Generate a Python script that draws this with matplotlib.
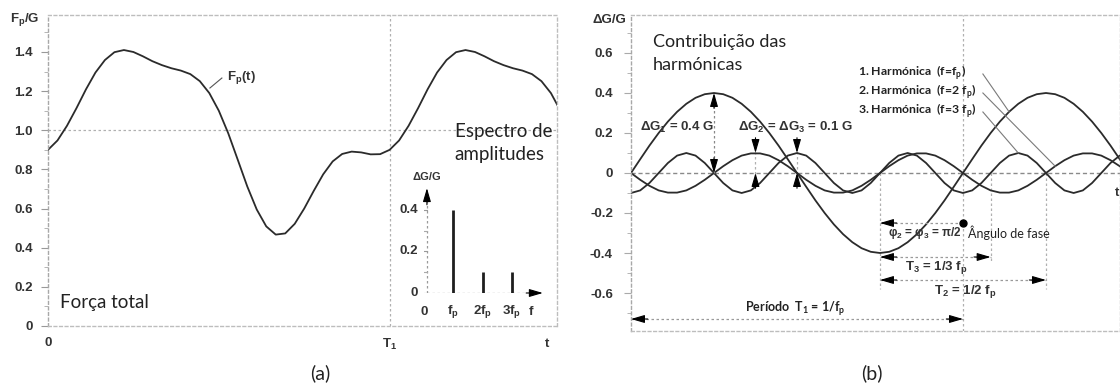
import matplotlib
matplotlib.use("Agg")
import matplotlib.pyplot as plt
import numpy as np

plt.rcParams['axes.unicode_minus'] = False

# ---------------- data ----------------
# sample positions in 36ths of the fundamental period T1 (0 .. 1.5 T1)
t_steps = np.arange(55)
# (a) total force Fp/G
force_total = [0.900, 0.948, 1.023, 1.113, 1.209, 1.295, 1.359, 1.399, 1.410, 1.400,
               1.378, 1.353, 1.333, 1.317, 1.305, 1.287, 1.251, 1.190, 1.100, 0.984,
               0.849, 0.713, 0.595, 0.509, 0.467, 0.473, 0.522, 0.600, 0.690, 0.775,
               0.841, 0.879, 0.891, 0.887, 0.877, 0.878, 0.900, 0.948, 1.023, 1.113,
               1.209, 1.295, 1.359, 1.399, 1.410, 1.400, 1.378, 1.353, 1.333, 1.317,
               1.305, 1.287, 1.251, 1.190, 1.100]
# (b) harmonic contributions dG/G
harmonic_1 = [0, .069, .137, .200, .257, .306, .346, .376, .394, .400, .394, .376, .346, .306,
              .257, .200, .137, .069, 0, -.069, -.137, -.200, -.257, -.306, -.346, -.376,
              -.394, -.400, -.394, -.376, -.346, -.306, -.257, -.200, -.137, -.069, 0, .069,
              .137, .200, .257, .306, .346, .376, .394, .400, .394, .376, .346, .306, .257,
              .200, .137, .069, 0]
harmonic_2 = [0, -.034, -.064, -.087, -.098, -.098, -.087, -.064, -.034, 0, .034, .064, .087,
              .098, .098, .087, .064, .034, 0, -.034, -.064, -.087, -.098, -.098, -.087,
              -.064, -.034, 0, .034, .064, .087, .098, .098, .087, .064, .034, 0, -.034,
              -.064, -.087, -.098, -.098, -.087, -.064, -.034, 0, .034, .064, .087, .098,
              .098, .087, .064, .034, 0]
harmonic_3 = [-.100, -.087, -.050, 0, .050, .087, .100, .087, .050, 0, -.050, -.087,
              -.100, -.087, -.050, 0, .050, .087, .100, .087, .050, 0, -.050, -.087,
              -.100, -.087, -.050, 0, .050, .087, .100, .087, .050, 0, -.050, -.087,
              -.100, -.087, -.050, 0, .050, .087, .100, .087, .050, 0, -.050, -.087,
              -.100, -.087, -.050, 0, .050, .087, .100]
# amplitude spectrum
spectrum_freq = [1, 2, 3]
spectrum_amp = [0.4, 0.1, 0.1]
spectrum_labels = ['0', 'f$_\\mathregular{p}$', '2f$_\\mathregular{p}$', '3f$_\\mathregular{p}$', 'f']
spectrum_label_pos = [0, 1, 2, 3, 3.65]
# tick labels
yticks_a = [0, 0.2, 0.4, 0.6, 0.8, 1.0, 1.2, 1.4]
yticks_b = [-0.6, -0.4, -0.2, 0, 0.2, 0.4, 0.6]
yticks_spec = [0, 0.2, 0.4]

t = t_steps / 36.0

# ---------------- style ----------------
ARIAL = 'Liberation Sans'
CALI = 'Lato'
TXT = '#333333'
CURVE = '#2b2b2b'
GRID = '#b0b0b0'
TS = 9.5
W, H = 1120, 385


def rect(l, tp, r, b):
    return [l / W, 1 - b / H, (r - l) / W, (b - tp) / H]


def style_frame(ax):
    for s in ax.spines.values():
        s.set_linestyle((0, (2, 2)))
        s.set_color('#bdbdbd')
        s.set_linewidth(1.0)
    ax.spines['left'].set_color('#a8a8a8')


def fmt(v):
    return '0' if v == 0 else f'{v:.1f}'


def head(ax, xy, off, ms=11):
    ax.annotate('', xy=xy, xytext=off, textcoords='offset points',
                arrowprops=dict(arrowstyle='-|>,head_length=0.75,head_width=0.22',
                                color='black', lw=0.8, shrinkA=0, shrinkB=0,
                                mutation_scale=ms))


fig = plt.figure(figsize=(11.2, 3.85), dpi=100)

# ======================= panel (a) =======================
axA = fig.add_axes(rect(48, 15, 557, 326))
axA.set_xlim(0, 1.49)
axA.set_ylim(0, 1.589)
style_frame(axA)
axA.axhline(1.0, color=GRID, ls=(0, (2, 2)), lw=0.9)
axA.axvline(1.0, color=GRID, ls=(0, (2, 2)), lw=0.9)
axA.plot(t, force_total, color=CURVE, lw=1.3)
axA.set_yticks(yticks_a)
axA.set_yticklabels([fmt(v) for v in yticks_a], fontfamily=ARIAL, fontweight='bold',
                    fontsize=TS, color=TXT)
axA.set_yticks(np.round(np.arange(0.1, 1.6, 0.2), 1), minor=True)
axA.tick_params(axis='y', which='major', length=5, color='#999999', pad=6)
axA.tick_params(axis='y', which='minor', length=3, color='#aaaaaa')
axA.set_xticks([0, 1.0])
axA.set_xticklabels(['0', 'T$_\\mathregular{1}$'], fontfamily=ARIAL, fontweight='bold',
                    fontsize=TS, color=TXT)
axA.tick_params(axis='x', length=0, pad=8)
axA.text(1.46, -0.09, 't', fontfamily=ARIAL, fontweight='bold', fontsize=TS, color=TXT,
         ha='center', va='center', clip_on=False)
axA.text(-0.068, 1.568, 'F$_\\mathregular{p}$/G', fontfamily=ARIAL, fontweight='bold',
         fontsize=TS, color=TXT, ha='center', va='center', clip_on=False)
axA.plot([0.474, 0.509], [1.216, 1.267], color='#555555', lw=0.8)
axA.text(0.524, 1.27, 'F$_\\mathregular{p}$(t)', fontfamily=ARIAL, fontweight='bold',
         fontsize=TS, color=TXT, ha='left', va='center')
axA.text(0.035, 0.12, 'Força total', fontfamily=CALI, fontsize=13.5, color='#222222',
         ha='left', va='center')
fig.text(320 / W, 1 - 373 / H, '(a)', fontfamily=CALI, fontsize=14, color='#222222',
         ha='center', va='center')

# ---------------- inset: amplitude spectrum ----------------
axS = fig.add_axes(rect(424, 185, 544, 293))
axS.set_xlim(0, 4.1)
axS.set_ylim(0, 0.52)
axS.patch.set_visible(False)
for s in axS.spines.values():
    s.set_visible(False)
axS.plot([0.1, 3.7], [0, 0], color='#9a9a9a', ls=(0, (2, 2)), lw=0.9)
axS.plot([0.1, 0.1], [0, 0.45], color='#9a9a9a', ls=(0, (2, 2)), lw=0.9)
head(axS, (4.06, 0), (-12, 0))
head(axS, (0.1, 0.505), (0, -12))
axS.vlines(spectrum_freq, 0, spectrum_amp, color='#1e1e1e', lw=2.0)
axS.set_xticks([])
axS.set_yticks([])
for v in yticks_spec:
    axS.text(-0.2, v, fmt(v), fontfamily=ARIAL, fontweight='bold', fontsize=TS,
             color=TXT, ha='right', va='center')
    axS.plot([-0.05, 0.1], [v, v], color='#999999', lw=0.8)
for v in [0.1, 0.3]:
    axS.plot([0.0, 0.1], [v, v], color='#aaaaaa', lw=0.8)
for p, lab in zip(spectrum_label_pos, spectrum_labels):
    axS.text(p, -0.09, lab, fontfamily=ARIAL, fontweight='bold', fontsize=TS,
             color=TXT, ha='center', va='center', clip_on=False)
axS.text(0.1, 0.56, 'ΔG/G', fontfamily=ARIAL, fontweight='bold', fontsize=8,
         color=TXT, ha='center', va='center', clip_on=False)
axS.text(1.05, 0.78, 'Espectro de', fontfamily=CALI, fontsize=13.5, color='#222222',
         ha='left', va='center', clip_on=False)
axS.text(1.05, 0.665, 'amplitudes', fontfamily=CALI, fontsize=13.5, color='#222222',
         ha='left', va='center', clip_on=False)

# ======================= panel (b) =======================
axB = fig.add_axes(rect(631, 15, 1120, 331))
axB.set_xlim(0, 1.473)
axB.set_ylim(-0.79, 0.79)
style_frame(axB)
axB.axhline(0, color='#8a8a8a', ls=(0, (3, 2)), lw=1.0)
axB.axvline(1.0, color=GRID, ls=(0, (2, 2)), lw=0.9)
for xv, y0 in [(0.75, -0.58), (1.0833, -0.45), (1.25, -0.58)]:
    axB.plot([xv, xv], [0, y0], color=GRID, ls=(0, (2, 2)), lw=0.9)
for xv in [0.375, 0.5]:
    axB.plot([xv, xv], [-0.03, 0.17], color=GRID, ls=(0, (2, 2)), lw=0.9)

for series in (harmonic_1, harmonic_2, harmonic_3):
    axB.plot(t, series, color=CURVE, lw=1.3)

axB.set_yticks(yticks_b)
axB.set_yticklabels([fmt(v) for v in yticks_b], fontfamily=ARIAL, fontweight='bold',
                    fontsize=TS, color=TXT)
axB.set_yticks(np.round(np.arange(-0.7, 0.75, 0.2), 1), minor=True)
axB.tick_params(axis='y', which='major', length=5, color='#aaaaaa', pad=8)
axB.tick_params(axis='y', which='minor', length=3, color='#aaaaaa')
axB.set_xticks([])
axB.text(-0.065, 0.765, 'ΔG/G', fontfamily=ARIAL, fontweight='bold', fontsize=TS,
         color=TXT, ha='center', va='center', clip_on=False)
axB.text(1.471, -0.1, 't', fontfamily=ARIAL, fontweight='bold', fontsize=TS,
         color=TXT, ha='right', va='center', clip_on=False)

axB.text(0.066, 0.655, 'Contribuição das', fontfamily=CALI, fontsize=13,
         color='#222222', ha='left', va='center')
axB.text(0.066, 0.54, 'harmónicas', fontfamily=CALI, fontsize=13,
         color='#222222', ha='left', va='center')

# amplitude dimension arrows
axB.plot([0.25, 0.25], [0, 0.4], color='#888888', ls=(0, (2, 2)), lw=0.9)
head(axB, (0.25, 0.4), (0, -11))
head(axB, (0.25, 0.0), (0, 11))
for xv in [0.375, 0.5]:
    head(axB, (xv, 0.1), (0, 11))
    head(axB, (xv, 0.0), (0, -11))
axB.text(0.139, 0.23, 'ΔG$_\\mathregular{1}$ = 0.4 G', fontfamily=ARIAL, fontweight='bold',
         fontsize=TS, color=TXT, ha='center', va='center')
axB.text(0.494, 0.23, 'ΔG$_\\mathregular{2}$ = ΔG$_\\mathregular{3}$ = 0.1 G', fontfamily=ARIAL,
         fontweight='bold', fontsize=TS, color=TXT, ha='center', va='center')

# harmonic labels with leaders
labels_h = ['1. Harmónica  (f=f$_\\mathregular{p}$)',
            '2. Harmónica  (f=2 f$_\\mathregular{p}$)',
            '3. Harmónica  (f=3 f$_\\mathregular{p}$)']
label_y = [0.50, 0.405, 0.31]
leader_end = [(t[41], harmonic_1[41]), (t[46], harmonic_2[46]), (t[42], harmonic_3[42])]
for lab, ly, (ex, ey) in zip(labels_h, label_y, leader_end):
    axB.text(0.684, ly, lab, fontfamily=CALI, fontweight='bold', fontsize=8.8,
             color='#222222', ha='left', va='center')
    axB.plot([1.06, ex], [ly - 0.005, ey], color='#7a7a7a', lw=0.8)

# time dimensions
def hdim(x0, x1, y, right_dot=False):
    axB.plot([x0, x1], [y, y], color='#9a9a9a', ls=(0, (2, 2)), lw=0.9)
    head(axB, (x0, y), (12, 0))
    if right_dot:
        axB.plot([x1], [y], 'o', color='black', ms=5)
    else:
        head(axB, (x1, y), (-12, 0))

hdim(0.75, 1.0, -0.25, right_dot=True)
hdim(0.75, 1.0833, -0.42)
hdim(0.75, 1.25, -0.535)
hdim(0.0, 1.0, -0.73)
axB.text(0.886, -0.30, 'φ$_\\mathregular{2}$ = φ$_\\mathregular{3}$ = π/2', fontfamily=ARIAL,
         fontweight='bold', fontsize=8.5, color=TXT, ha='center', va='center')
axB.text(1.015, -0.30, 'Ângulo de fase', fontfamily=CALI, fontsize=9,
         color='#222222', ha='left', va='center')
axB.text(0.92, -0.47, 'T$_\\mathregular{3}$ = 1/3 f$_\\mathregular{p}$', fontfamily=ARIAL,
         fontweight='bold', fontsize=TS, color=TXT, ha='center', va='center')
axB.text(1.006, -0.59, 'T$_\\mathregular{2}$ = 1/2 f$_\\mathregular{p}$', fontfamily=ARIAL,
         fontweight='bold', fontsize=TS, color=TXT, ha='center', va='center')
axB.text(0.343, -0.68, 'Período  T$_\\mathregular{1}$ = 1/f$_\\mathregular{p}$', fontfamily=CALI,
         fontweight='bold', fontsize=9, color='#222222', ha='left', va='center')
fig.text(872 / W, 1 - 373 / H, '(b)', fontfamily=CALI, fontsize=14, color='#222222',
         ha='center', va='center')

fig.savefig('out.png', dpi=100)
